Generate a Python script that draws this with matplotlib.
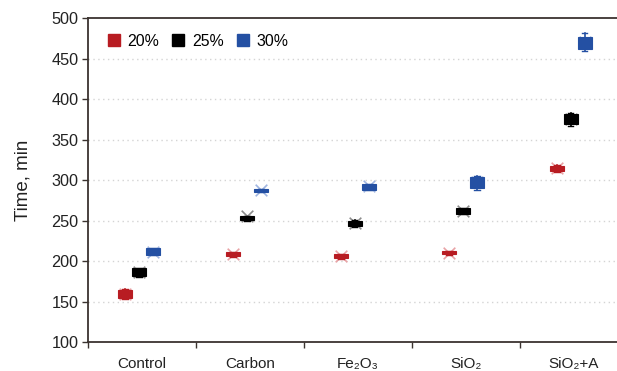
"""Box plots of time per additive at three concentrations."""

import numpy as np
import matplotlib.pyplot as plt
from matplotlib.lines import Line2D

plt.rcParams["font.family"] = ["Liberation Sans", "DejaVu Sans"]

CATEGORIES = ["Control", "Carbon", "Fe₂O₃", "SiO₂", "SiO₂+A"]
SERIES = ["20%", "25%", "30%"]

# per-series box statistics, one value per category
WHISLO = {
    "20%": [153, 205, 203, 208, 310],
    "25%": [180, 250, 242, 257.5, 367],
    "30%": [207, 285, 287.5, 288, 459.5],
}
Q1 = {
    "20%": [154, 206, 204, 208.5, 311],
    "25%": [181, 251, 243, 258.5, 369],
    "30%": [207.5, 285.5, 288, 290, 461.5],
}
MEDIAN = {
    "20%": [159, 208.5, 206, 210.5, 314],
    "25%": [187, 253, 247, 262, 375],
    "30%": [211.5, 287.5, 291.5, 297, 470],
}
Q3 = {
    "20%": [164, 211, 208.5, 212.5, 317],
    "25%": [191, 255.5, 250, 265.5, 381],
    "30%": [216, 289, 294.5, 304, 477],
}
WHISHI = {
    "20%": [165, 211.5, 209, 213, 319],
    "25%": [192, 256, 251, 266, 383],
    "30%": [216.5, 289.5, 295, 305, 481],
}
MEAN = {
    "20%": [159, 208.5, 206, 210.5, 314.5],
    "25%": [187, 255.5, 247, 261.5, 375],
    "30%": [211.5, 287.5, 293, 297, 470],
}

COLORS = {"20%": "#b81c22", "25%": "#000000", "30%": "#2450a3"}
MEAN_COLORS = {"20%": "#e9a3a6", "25%": "#8c8c8c", "30%": "#9fb5e0"}
OFFSETS = {"20%": -0.155, "25%": -0.03, "30%": 0.1}
BOX_W = 0.13
AXIS_C = "#3b3330"

fig = plt.figure(figsize=(6.17, 3.71), dpi=100)
ax = fig.add_axes([0.1426, 0.078, 0.875, 0.8735])

x = np.arange(len(CATEGORIES))
for s in SERIES:
    stats = [
        dict(whislo=WHISLO[s][i], q1=Q1[s][i], med=MEDIAN[s][i],
             q3=Q3[s][i], whishi=WHISHI[s][i], mean=MEAN[s][i], fliers=[])
        for i in range(len(CATEGORIES))
    ]
    c = COLORS[s]
    ax.bxp(
        stats, positions=x + OFFSETS[s], widths=BOX_W, patch_artist=True,
        showmeans=False, manage_ticks=False,
        boxprops=dict(facecolor=c, edgecolor=c, linewidth=0.8),
        medianprops=dict(color=c, linewidth=0.8),
        whiskerprops=dict(color=c, linewidth=1.2),
        capprops=dict(color=c, linewidth=1.0),
        capwidths=BOX_W * 0.4, zorder=3,
    )
    ax.scatter(x + OFFSETS[s], MEAN[s], marker="x", s=70,
               color=MEAN_COLORS[s], linewidths=1.2, zorder=2)

ax.set_xlim(-0.5, len(CATEGORIES) - 0.5)
ax.set_ylim(100, 500)
ax.set_yticks(np.arange(100, 501, 50))
ax.set_xticks(np.arange(-0.5, len(CATEGORIES), 1.0))
ax.set_xticklabels([])
ax.set_xticks(x, minor=True)
ax.set_xticklabels(CATEGORIES, minor=True)
ax.tick_params(axis="x", which="minor", length=0, pad=10.5, labelsize=11,
               labelcolor="#222222")
ax.tick_params(axis="x", which="major", length=4, width=1, color=AXIS_C)
ax.tick_params(axis="y", length=4, width=1, color=AXIS_C, labelsize=11.7,
               labelcolor="#222222", pad=3)

for y in range(150, 500, 50):
    ax.axhline(y, color="#d4d4d4", linestyle=(0, (1, 2.5)), linewidth=1.0,
               zorder=0)

for side in ("left", "bottom", "top"):
    ax.spines[side].set_color(AXIS_C)
    ax.spines[side].set_linewidth(1.3)
ax.spines["right"].set_visible(False)

ax.set_ylabel("Time, min", fontsize=13.5, color="#222222", labelpad=14)

handles = [
    Line2D([], [], marker="s", linestyle="none", markersize=9,
           color=COLORS[s], label=s)
    for s in SERIES
]
ax.legend(handles=handles, loc="upper left", ncol=3, frameon=False,
          fontsize=11.4, handlelength=0.8, handletextpad=0.45,
          columnspacing=0.8, bbox_to_anchor=(0.01, 0.995),
          borderaxespad=0.5)

fig.savefig("out.png", dpi=100)
